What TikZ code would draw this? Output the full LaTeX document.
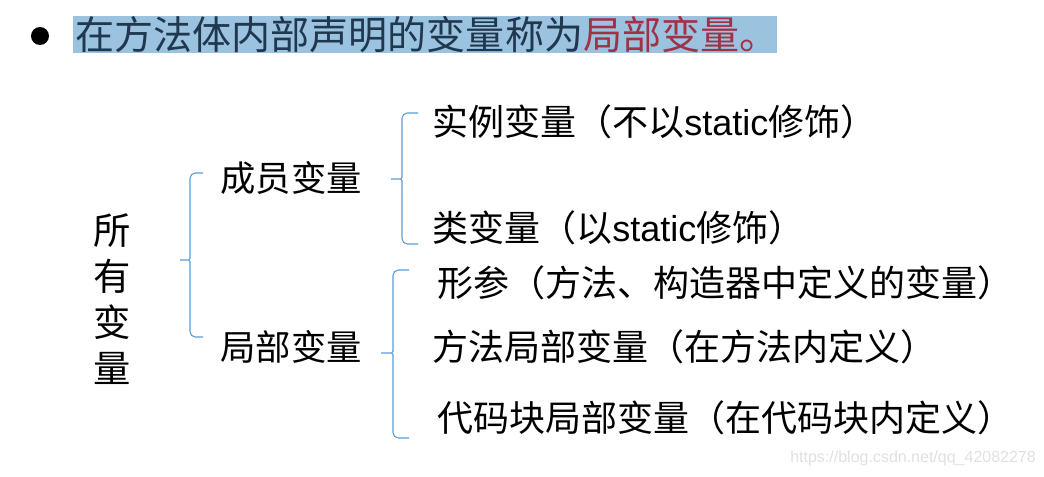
\documentclass[tikz,border=0pt]{standalone}
\usepackage{fontspec}
\usepackage{tikz}
\setmainfont{Liberation Sans}
\newfontfamily\cjk{Noto Sans CJK SC}
\newfontfamily\arial{Liberation Sans}
\definecolor{braceblue}{RGB}{91,155,213}
\definecolor{markblue}{RGB}{155,194,222}
\definecolor{inkblue}{RGB}{31,56,79}
\definecolor{inkred}{RGB}{160,50,70}
\tikzset{
  brace/.style={draw=braceblue,line width=0.8pt,rounded corners=4},
  item/.style={anchor=west,inner sep=0pt,font=\cjk\fontsize{27}{31}\selectfont},
  kind/.style={inner sep=0pt,font=\cjk\fontsize{26.5}{30}\selectfont}
}
% tick x, stem x, tip x, top, tip y, bottom
\newcommand{\kuohao}[6]{%
  \draw[brace] (#1,#4) -- (#2,#4) -- (#2,#5-7) .. controls (#2,#5) .. (#3,#5)
    .. controls (#2,#5) .. (#2,#5+7) -- (#2,#6) -- (#1,#6);}
\newcommand{\st}{{\arial static}}

\begin{document}
\begin{tikzpicture}[x=0.75pt,y=-0.75pt]
  \useasboundingbox (0,0) rectangle (1044,477);
  % title line
  \fill[black] (40,36) circle (9);
  \fill[markblue] (73,16) rectangle (777,53);
  \node (title) [anchor=west,inner sep=0pt,font=\cjk\fontsize{29.3}{34}\selectfont,text=inkblue]
    at (75,35) {在方法体内部声明的变量称为\textcolor{inkred}{局部变量。}};
  % tree
  \node (all) [inner sep=0pt,align=center,font=\cjk\fontsize{28}{34.5}\selectfont]
    at (112,299) {所\\有\\变\\量};
  \node (member) [kind] at (291,178) {成员变量};
  \node (local) [kind] at (291,347) {局部变量};
  \node (inst) [item] at (432,122) {实例变量（不以\st 修饰）};
  \node (cls) [item] at (432,228) {类变量（以\st 修饰）};
  \node (param) [item] at (437,283) {形参（方法、构造器中定义的变量）};
  \node (mloc) [item] at (432,347) {方法局部变量（在方法内定义）};
  \node (bloc) [item] at (437,418) {代码块局部变量（在代码块内定义）};
  \kuohao{203}{190}{177}{173}{260}{337}
  \kuohao{418}{402}{388}{113}{179}{244}
  \kuohao{409}{393}{378}{270}{353}{438}
  \node (mark) [anchor=west,inner sep=0pt,text=black!12,font=\arial\fontsize{12}{14}\selectfont]
    at (790,458) {https://blog.csdn.net/qq\_42082278};
\end{tikzpicture}
\end{document}
